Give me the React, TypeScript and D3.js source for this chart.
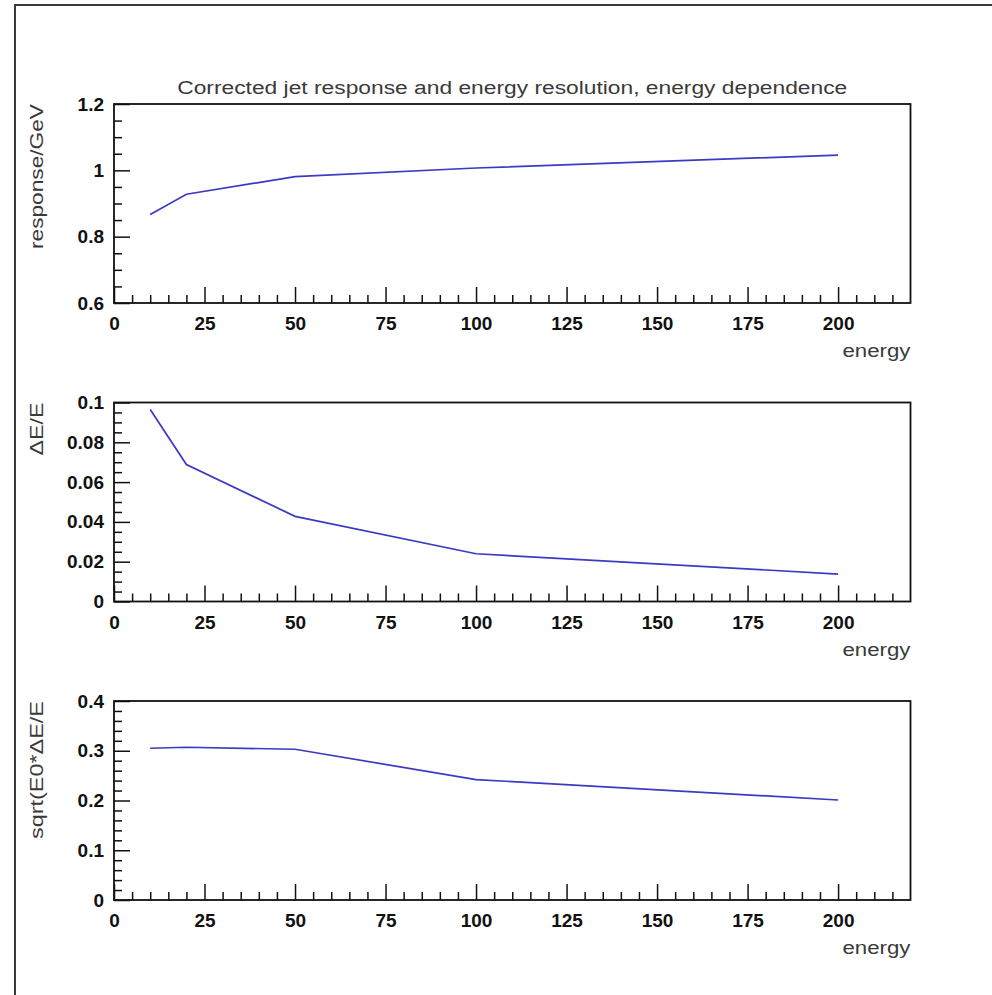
import React, { useEffect, useRef } from 'react';
import * as d3 from 'd3';

// energy points (GeV)
const energies = [10, 20, 50, 100, 200];

const response = [0.867, 0.928, 0.981, 1.007, 1.046];
const resolution = [0.0965, 0.0688, 0.0428, 0.024, 0.0138];
const scaledResolution = [0.305, 0.307, 0.303, 0.242, 0.201];

const xMajorTicks = [0, 25, 50, 75, 100, 125, 150, 175, 200];
const xTickLabels = ['0', '25', '50', '75', '100', '125', '150', '175', '200'];

const yTicks1 = [0.6, 0.8, 1, 1.2];
const yTickLabels1 = ['0.6', '0.8', '1', '1.2'];
const yTicks2 = [0, 0.02, 0.04, 0.06, 0.08, 0.1];
const yTickLabels2 = ['0', '0.02', '0.04', '0.06', '0.08', '0.1'];
const yTicks3 = [0, 0.1, 0.2, 0.3, 0.4];
const yTickLabels3 = ['0', '0.1', '0.2', '0.3', '0.4'];

const titleText = 'Corrected jet response and energy resolution, energy dependence';
const xTitle = 'energy';

interface Panel {
  values: number[];
  domain: [number, number];
  ticks: number[];
  labels: string[];
  minorStep: number;
  yTitle: string;
  yTitleLength: number;
}

const panels: Panel[] = [
  { values: response, domain: [0.6, 1.2], ticks: yTicks1, labels: yTickLabels1, minorStep: 0.05, yTitle: 'response/GeV', yTitleLength: 145 },
  { values: resolution, domain: [0, 0.1], ticks: yTicks2, labels: yTickLabels2, minorStep: 0.005, yTitle: 'ΔE/E', yTitleLength: 53 },
  { values: scaledResolution, domain: [0, 0.4], ticks: yTicks3, labels: yTickLabels3, minorStep: 0.02, yTitle: 'sqrt(E0*ΔE/E', yTitleLength: 138 },
];

export default function App() {
  const ref = useRef<SVGSVGElement>(null);

  useEffect(() => {
    const width = 992;
    const left = 114;
    const right = 910.5;
    const panelTops = [104, 402.5, 701];
    const panelHeight = 199;

    const svg = d3.select(ref.current);
    svg.selectAll('*').remove();

    svg.append('rect').attr('width', width).attr('height', 995).attr('fill', '#fff');

    // outer frame (only top and left visible)
    svg
      .append('path')
      .attr('d', 'M15,995 L15,5 L992,5')
      .attr('fill', 'none')
      .attr('stroke', '#3a3a3a')
      .attr('stroke-width', 2);

    const xScale = d3.scaleLinear().domain([0, 220]).range([left, right]);
    const xMinor = d3.range(5, 220, 5).filter((v) => v % 25 !== 0);

    svg
      .append('text')
      .attr('x', (left + right) / 2)
      .attr('y', 94)
      .attr('text-anchor', 'middle')
      .attr('font-family', 'Liberation Sans, Arial, sans-serif')
      .attr('font-size', 18)
      .attr('fill', '#3a3a3a')
      .attr('textLength', 670)
      .attr('lengthAdjust', 'spacingAndGlyphs')
      .text(titleText);

    panels.forEach((p, i) => {
      const top = panelTops[i];
      const bottom = top + panelHeight;
      const yScale = d3.scaleLinear().domain(p.domain).range([bottom, top]);
      const g = svg.append('g');

      const yMinor = d3
        .range(p.domain[0], p.domain[1] + p.minorStep / 2, p.minorStep)
        .filter((v) => !p.ticks.some((t) => Math.abs(t - v) < p.minorStep / 10));

      // minor ticks
      g.append('g')
        .attr('transform', `translate(${left},0)`)
        .call(d3.axisLeft(yScale).tickValues(yMinor).tickSize(-8).tickFormat(() => ''))
        .call((a) => a.select('.domain').remove());
      g.append('g')
        .attr('transform', `translate(0,${bottom})`)
        .call(d3.axisBottom(xScale).tickValues(xMinor).tickSize(-8).tickFormat(() => ''))
        .call((a) => a.select('.domain').remove());

      // major ticks with labels
      const yAxis = g
        .append('g')
        .attr('transform', `translate(${left},0)`)
        .call(
          d3
            .axisLeft(yScale)
            .tickValues(p.ticks)
            .tickSize(-16)
            .tickPadding(10)
            .tickFormat((_, j) => p.labels[j])
        );
      yAxis.select('.domain').remove();

      const xAxis = g
        .append('g')
        .attr('transform', `translate(0,${bottom})`)
        .call(
          d3
            .axisBottom(xScale)
            .tickValues(xMajorTicks)
            .tickSize(-16)
            .tickPadding(11)
            .tickFormat((_, j) => xTickLabels[j])
        );
      xAxis.select('.domain').remove();

      g.selectAll('.tick line').attr('stroke', '#111').attr('stroke-width', 1.5);
      g.selectAll('.tick text')
        .attr('font-family', 'Liberation Sans, Arial, sans-serif')
        .attr('font-weight', 'bold')
        .attr('font-size', 19)
        .attr('fill', '#111');
      xAxis.selectAll('.tick text').attr('dy', '0.85em');

      // plot frame
      g.append('rect')
        .attr('x', left)
        .attr('y', top)
        .attr('width', right - left)
        .attr('height', bottom - top)
        .attr('fill', 'none')
        .attr('stroke', '#111')
        .attr('stroke-width', 1.8);

      const line = d3
        .line<number>()
        .x((_, j) => xScale(energies[j]))
        .y((d) => yScale(d));

      g.append('path')
        .datum(p.values)
        .attr('d', line)
        .attr('fill', 'none')
        .attr('stroke', '#3a3ac4')
        .attr('stroke-width', 1.7);

      // axis titles
      g.append('text')
        .attr('x', right)
        .attr('y', bottom + 54)
        .attr('text-anchor', 'end')
        .attr('font-family', 'Liberation Sans, Arial, sans-serif')
        .attr('font-size', 18)
        .attr('fill', '#3a3a3a')
        .attr('textLength', 68)
        .attr('lengthAdjust', 'spacingAndGlyphs')
        .text(xTitle);

      g.append('text')
        .attr('transform', `translate(43,${top}) rotate(-90)`)
        .attr('text-anchor', 'end')
        .attr('font-family', 'Liberation Sans, Arial, sans-serif')
        .attr('font-size', 18)
        .attr('fill', '#3a3a3a')
        .attr('textLength', p.yTitleLength)
        .attr('lengthAdjust', 'spacingAndGlyphs')
        .text(p.yTitle);
    });
  }, []);

  return (
    <svg
      ref={ref}
      width={992}
      height={995}
      style={{ position: 'absolute', left: 0, top: 0, display: 'block' }}
    />
  );
}
